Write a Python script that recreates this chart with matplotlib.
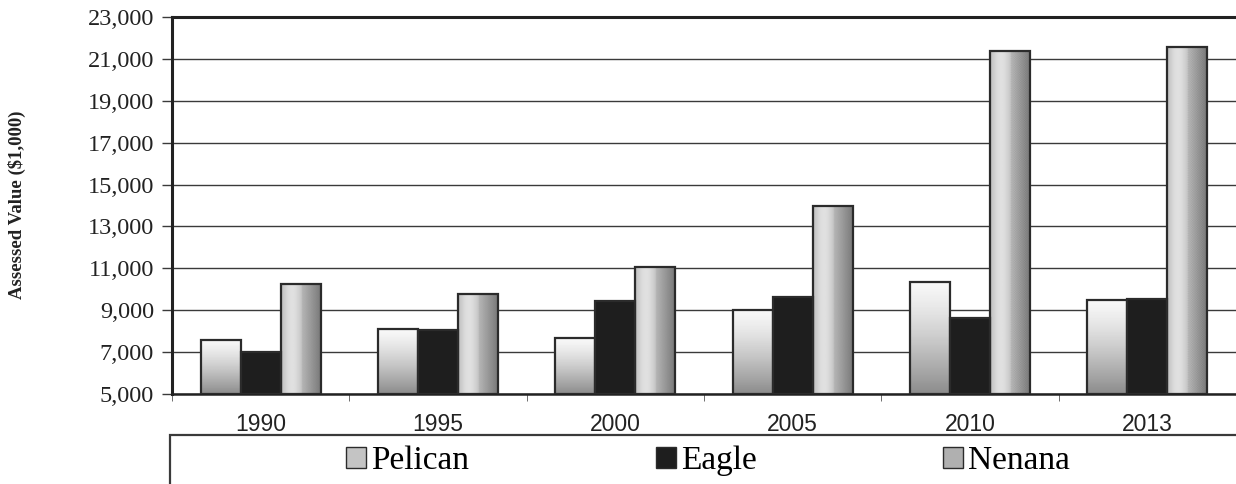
import numpy as np
import matplotlib.pyplot as plt
from matplotlib.patches import Rectangle, Patch
from matplotlib.ticker import FuncFormatter

# Assessed value by community, thousands of dollars
years = ["1990", "1995", "2000", "2005", "2010", "2013"]
pelican = [7600, 8100, 7650, 9000, 10350, 9480]
eagle = [7000, 8050, 9430, 9620, 8620, 9520]
nenana = [10250, 9770, 11060, 13970, 21380, 21570]

serif = "Liberation Serif"
sans = "Liberation Sans"

fig = plt.figure(figsize=(12.36, 4.84), dpi=100)
ax = fig.add_axes([172 / 1236, 1 - 394 / 484, 1 - 172 / 1236, (394 - 17) / 484])

x = np.arange(len(years))
w = 0.225
edge = "#2b2b2b"

# vertical fade for Pelican: light on top, grey at the bottom
v = np.linspace(0, 1, 64)[:, None]
pel_img = (0.97 - 0.42 * v ** 1.3) * np.ones((64, 8))

# horizontal shading for Nenana, speckled on the right half
h = np.linspace(0, 1, 48)
base = 0.74 + 0.14 * np.sin(np.pi * np.clip(h / 0.55, 0, 1)) - 0.22 * np.clip((h - 0.55) / 0.45, 0, 1)
ii, jj = np.indices((300, 48))
speck = np.where(((ii + jj) % 2 == 0) & (jj > 24), -0.08, 0.0)
nen_img = base[None, :] + speck


def shade(bars, img):
    for b in bars:
        x0, y0 = b.get_x(), b.get_y()
        ax.imshow(img, cmap="gray", vmin=0, vmax=1, aspect="auto", interpolation="bilinear",
                  extent=[x0, x0 + b.get_width(), y0, y0 + b.get_height()],
                  origin="upper", zorder=2)


b1 = ax.bar(x - w, np.array(pelican) - 5000, w, bottom=5000, facecolor="none",
            edgecolor=edge, linewidth=1.6, zorder=3)
b2 = ax.bar(x, np.array(eagle) - 5000, w, bottom=5000, color="#1e1e1e",
            edgecolor=edge, linewidth=1.6, zorder=3)
b3 = ax.bar(x + w, np.array(nenana) - 5000, w, bottom=5000, facecolor="none",
            edgecolor=edge, linewidth=1.6, zorder=3)
shade(b1, pel_img)
shade(b3, nen_img)

ax.set_xlim(-0.5, len(years) - 0.5)
ax.set_ylim(5000, 23000)
ax.set_yticks(np.arange(5000, 23001, 2000))
ax.yaxis.set_major_formatter(FuncFormatter(lambda val, pos: f"{int(val):,}"))
ax.grid(axis="y", color="#3a3a3a", linewidth=1.0, zorder=1)
ax.set_axisbelow(True)

ax.set_xticks(x)
ax.set_xticklabels(years, fontfamily=sans, fontsize=16.5, color="#222222")
ax.set_xticks(np.arange(-0.5, len(years)), minor=True)
ax.tick_params(axis="x", which="major", length=0, pad=14)
ax.tick_params(axis="x", which="minor", length=5, color="#555555")
ax.tick_params(axis="y", length=7, width=1, color="#3a3a3a", pad=6)
for t in ax.get_yticklabels():
    t.set_fontfamily(serif)
    t.set_fontsize(17.5)
    t.set_color("#222222")

for side in ["left", "top"]:
    ax.spines[side].set_linewidth(2.2)
    ax.spines[side].set_color("#222222")
ax.spines["bottom"].set_linewidth(1.8)
ax.spines["bottom"].set_color("#222222")
ax.spines["right"].set_visible(False)

fig.text(17 / 1236, 1 - 205 / 484, "Assessed Value ($1,000)", rotation=90,
         ha="center", va="center", fontfamily=serif, fontweight="bold",
         fontsize=13.5, color="#222222")

# legend box spanning the width below the axis
fig.patches.append(Rectangle((170 / 1236, -0.05), 1.0, 1 - 435 / 484 + 0.05,
                             transform=fig.transFigure, fill=False,
                             edgecolor="#3a3a3a", linewidth=1.6))
handles = [Patch(facecolor="#c4c4c4", edgecolor=edge),
           Patch(facecolor="#1e1e1e", edgecolor=edge),
           Patch(facecolor="#b0b0b0", edgecolor=edge)]
fig.legend(handles, ["Pelican", "Eagle", "Nenana"], ncol=3, frameon=False,
           loc="center", bbox_to_anchor=(708 / 1236, 1 - 461 / 484),
           prop={"family": serif, "size": 24}, handlelength=0.6,
           handleheight=0.6, handletextpad=0.15, columnspacing=5.6)

fig.savefig("out.png", dpi=100)
